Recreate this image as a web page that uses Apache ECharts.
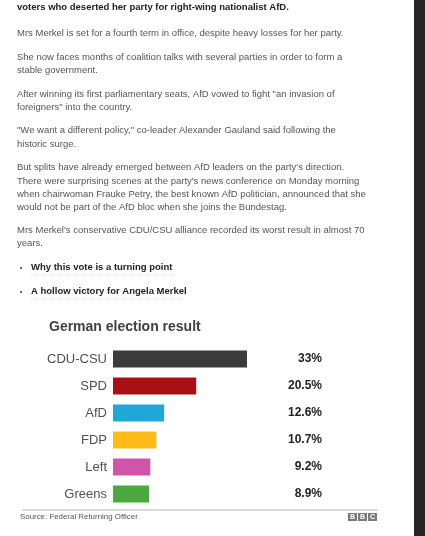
<!DOCTYPE html>
<html>
<head>
<meta charset="utf-8">
<script src="https://cdn.jsdelivr.net/npm/echarts@6/dist/echarts.min.js"></script>
<style>
  html, body { margin: 0; padding: 0; background: #fff; }
  #chart { width: 425px; height: 536px; }
</style>
</head>
<body>
<div id="chart"></div>
<script>
const parties = ['CDU-CSU', 'SPD', 'AfD', 'FDP', 'Left', 'Greens']
const shares = [33, 20.5, 12.6, 10.7, 9.2, 8.9]
const shareLabels = ['33%', '20.5%', '12.6%', '10.7%', '9.2%', '8.9%']
const partyColors = ['#3b3b3b', '#a81016', '#1ea8d8', '#fdbb1a', '#d054a8', '#4aa83e']

// article text above the chart: [text, y, bold]
const articleLines = [
  ['voters who deserted her party for right-wing nationalist AfD.', 7, true],
  ['Mrs Merkel is set for a fourth term in office, despite heavy losses for her party.', 33],
  ['She now faces months of coalition talks with several parties in order to form a', 57],
  ['stable government.', 70],
  ['After winning its first parliamentary seats, AfD vowed to fight "an invasion of', 94],
  ['foreigners" into the country.', 107],
  ['"We want a different policy," co-leader Alexander Gauland said following the', 130],
  ['historic surge.', 144],
  ['But splits have already emerged between AfD leaders on the party\'s direction.', 167],
  ['There were surprising scenes at the party\'s news conference on Monday morning', 181],
  ['when chairwoman Frauke Petry, the best known AfD politician, announced that she', 194],
  ['would not be part of the AfD bloc when she joins the Bundestag.', 207],
  ['Mrs Merkel\'s conservative CDU/CSU alliance recorded its worst result in almost 70', 230],
  ['years.', 243]
]
const links = [
  ['Why this vote is a turning point', 267],
  ['A hollow victory for Angela Merkel', 291]
]

const font = '"Liberation Sans", Arial, sans-serif'

const graphics = []
articleLines.forEach(([t, y, bold]) => {
  graphics.push({
    type: 'text', left: 17, top: y - 4.5,
    style: { text: t, fill: bold ? '#222' : '#555', font: (bold ? 'bold ' : '') + '9.5px ' + font }
  })
})
links.forEach(([t, y]) => {
  graphics.push({ type: 'rect', shape: { x: 20, y: y, width: 2, height: 2 }, style: { fill: '#666' } })
  graphics.push({
    type: 'text', left: 31, top: y - 4.5,
    style: { text: t, fill: '#222', font: 'bold 9.5px ' + font }
  })
  graphics.push({
    type: 'line', shape: { x1: 31, y1: y + 8, x2: 31 + t.length * 4.5, y2: y + 8 },
    style: { stroke: '#d8d8d8', lineWidth: 1, lineDash: [1, 1] }
  })
})
// footer
graphics.push({ type: 'line', shape: { x1: 22, y1: 510, x2: 378, y2: 510 }, style: { stroke: '#cfcfcf', lineWidth: 1.5 } })
graphics.push({
  type: 'text', left: 20, top: 513,
  style: { text: 'Source: Federal Returning Officer', fill: '#555', font: '7.9px ' + font }
})
;['B', 'B', 'C'].forEach((ch, i) => {
  graphics.push({ type: 'rect', shape: { x: 348 + i * 10, y: 513, width: 9, height: 8 }, style: { fill: '#7a7a7a' } })
  graphics.push({
    type: 'text', x: 352.5 + i * 10, y: 517,
    style: { text: ch, fill: '#fff', font: 'bold 7px ' + font, align: 'center', verticalAlign: 'middle' }
  })
})
// dark page edge on the right
graphics.push({ type: 'rect', shape: { x: 414, y: 0, width: 11, height: 536 }, style: { fill: '#262626' } })

const myChart = echarts.init(document.getElementById('chart'))
myChart.setOption({
  animation: false,
  title: {
    text: 'German election result',
    left: 49, top: 320.5, padding: 0,
    textStyle: { fontFamily: font, fontSize: 14, fontWeight: 'bold', color: '#404040' }
  },
  grid: { left: 113, top: 345.5, width: 162.4, height: 162, containLabel: false },
  xAxis: {
    type: 'value', min: 0, max: 40,
    show: false
  },
  yAxis: [
    {
      type: 'category', data: parties, inverse: true,
      axisLine: { show: false }, axisTick: { show: false },
      axisLabel: { margin: 6, color: '#505050', fontSize: 13, fontFamily: font }
    },
    {
      type: 'category', data: shareLabels, inverse: true, position: 'right',
      axisLine: { show: false }, axisTick: { show: false },
      axisLabel: { margin: 46.6, align: 'right', color: '#222', fontSize: 12, fontWeight: 'bold', fontFamily: font }
    }
  ],
  series: [
    {
      type: 'bar',
      data: shares.map((v, i) => ({ value: v, itemStyle: { color: partyColors[i] } })),
      barWidth: 17
    }
  ],
  graphic: graphics
})
</script>
</body>
</html>
